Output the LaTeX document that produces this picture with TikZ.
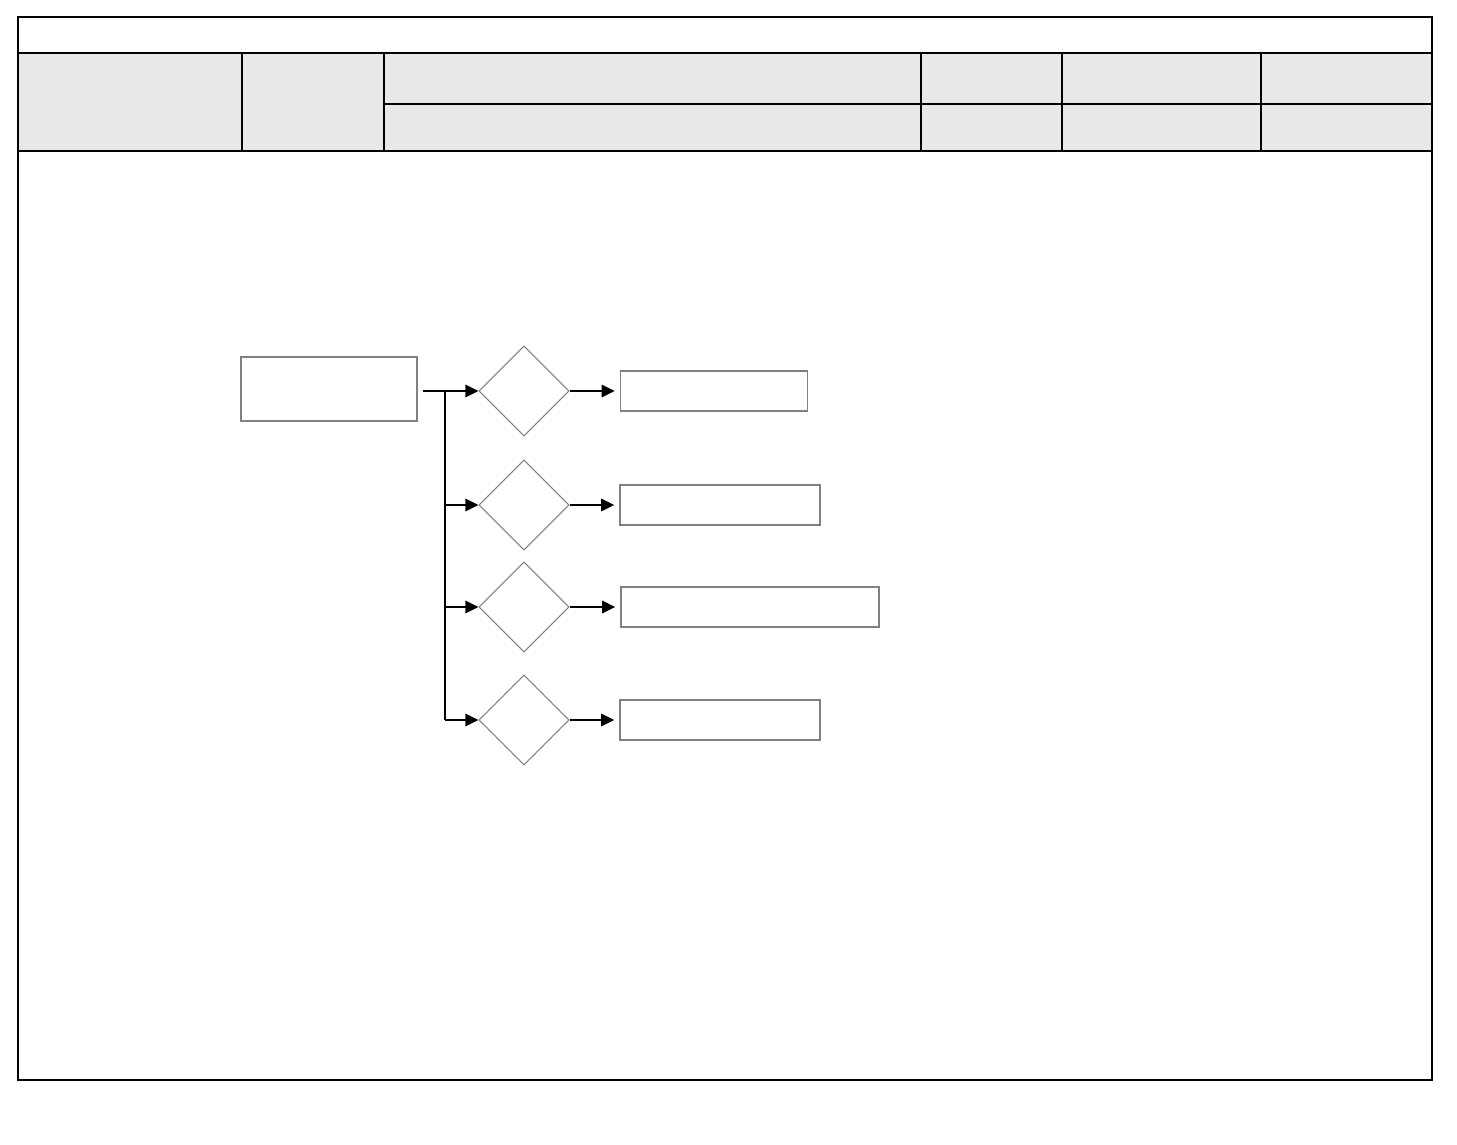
\documentclass[tikz,border=0pt]{standalone}
\usetikzlibrary{shapes.geometric,arrows.meta}

\tikzset{
    box/.style={draw=black!50, line width=0.9pt, minimum height=0.8cm, inner sep=0pt},
    choice/.style={diamond, draw=black!50, line width=0.6pt, minimum width=1.8cm, minimum height=1.8cm, inner sep=0pt},
    flow/.style={line width=0.8pt, -{Triangle[length=0.26cm,width=0.25cm]}},
    rule/.style={line width=1.6pt},
}

\begin{document}
\begin{tikzpicture}[x=0.02cm, y=-0.02cm]
    \useasboundingbox (0,0) rectangle (1457,1145);

    % header table
    \fill[black!9] (18,53) rectangle (1432,151);
    \draw[line width=1.2pt] (18,17) rectangle (1432,1080);
    \draw[rule] (18,53) -- (1432,53);
    \draw[rule] (18,151) -- (1432,151);
    \draw[line width=1pt] (384,104) -- (1432,104);
    \foreach \x in {242,384,921,1062,1261}
        \draw[line width=1pt] (\x,53) -- (\x,151);

    % flow
    \node[box, minimum width=3.52cm, minimum height=1.28cm] (start) at (329,389) {};
    \coordinate (fork) at (445,391);

    \foreach \n/\y/\w/\c in {a/391/3.74/714, b/505/4.0/720, c/607/5.16/750, d/720/4.0/720} {
        \node[choice] (q\n) at (524,\y) {};
        \node[box, minimum width=\w cm] (r\n) at (\c,\y) {};
        \draw[flow] (fork |- q\n.west) -- (q\n.west);
        \draw[flow, shorten >=0.1cm] (q\n.east) -- (r\n.west);
    }

    \draw[line width=0.8pt, shorten <=0.1cm] (start.east |- fork) -- (fork) -- (fork |- qd.west);

\end{tikzpicture}
\end{document}
